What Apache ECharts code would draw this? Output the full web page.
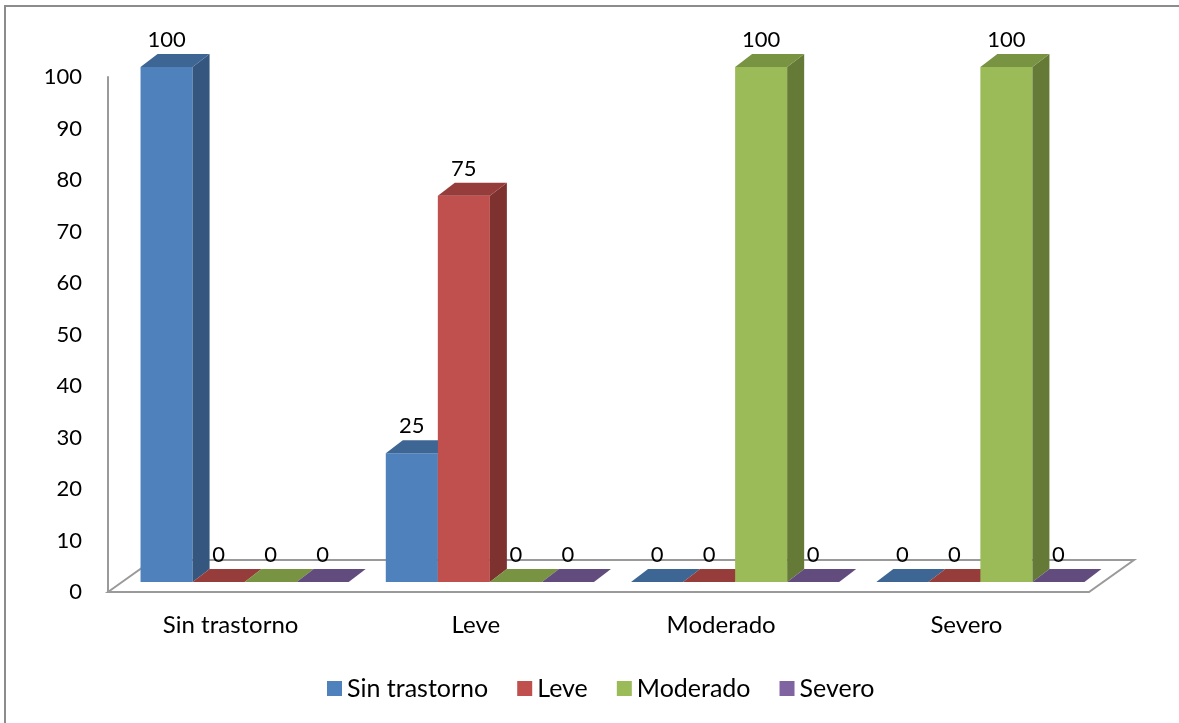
<!DOCTYPE html>
<html>
<head>
<meta charset="utf-8">
<script src="https://cdn.jsdelivr.net/npm/echarts@6/dist/echarts.min.js"></script>
<style>
html,body{margin:0;padding:0;background:#fff;}
#chart{width:1179px;height:723px;}
</style>
</head>
<body>
<div id="chart"></div>
<script>
// ---- data ----
var categories = ['Sin trastorno', 'Leve', 'Moderado', 'Severo'];
var seriesNames = ['Sin trastorno', 'Leve', 'Moderado', 'Severo'];
var sinTrastorno = [100, 25, 0, 0];
var leve = [0, 75, 0, 0];
var moderado = [0, 0, 100, 100];
var severo = [0, 0, 0, 0];
var yTicks = [0, 10, 20, 30, 40, 50, 60, 70, 80, 90, 100];

// ---- style ----
var FONT = 'Lato, "Open Sans", sans-serif';
var faces = [
  { front: '#4F81BD', top: '#3D6695', side: '#34567F' },
  { front: '#C0504D', top: '#963D3B', side: '#7E3230' },
  { front: '#9BBB59', top: '#789341', side: '#657A37' },
  { front: '#8064A2', top: '#624C7E', side: '#52406B' }
];
var SHIFT_X = 14, SHIFT_Y = -10;   // bar front plane offset from floor front edge
var DEPTH_X = 17, DEPTH_Y = -13;   // bar depth
var FLOOR_X = 45, FLOOR_Y = -32;   // floor depth

var allValues = [sinTrastorno, leve, moderado, severo];

function barRenderer(si) {
  return function (params, api) {
    var c = api.value(0), v = api.value(1);
    var top = api.coord([c, v]);
    var base = api.coord([c, 0]);
    var band = api.size([1, 0])[0];
    var bw = band * 0.2122;
    var x0 = top[0] - 2 * bw + si * bw + SHIFT_X;
    var x1 = x0 + bw;
    var yT = top[1] + SHIFT_Y;
    var yB = base[1] + SHIFT_Y;
    var f = faces[si];
    var children = [];
    if (yB - yT > 0.5) {
      children.push({ type: 'rect', shape: { x: x0, y: yT, width: bw, height: yB - yT }, style: { fill: f.front } });
      children.push({ type: 'polygon', shape: { points: [[x1, yT], [x1 + DEPTH_X, yT + DEPTH_Y], [x1 + DEPTH_X, yB + DEPTH_Y], [x1, yB]] }, style: { fill: f.side } });
    }
    children.push({ type: 'polygon', shape: { points: [[x0, yT], [x0 + DEPTH_X, yT + DEPTH_Y], [x1 + DEPTH_X, yT + DEPTH_Y], [x1, yT]] }, style: { fill: f.top } });
    children.push({ type: 'text', z2: 100, style: { text: String(v), x: x0 + bw / 2, y: yT + DEPTH_Y - 14, align: 'center', verticalAlign: 'middle', fill: '#000', font: '22px ' + FONT } });
    return { type: 'group', children: children };
  };
}

function floorRenderer(params, api) {
  var cs = params.coordSys;
  var l = cs.x, r = cs.x + cs.width, b = cs.y + cs.height;
  return {
    type: 'polygon',
    shape: { points: [[l, b], [l + FLOOR_X, b + FLOOR_Y], [r + FLOOR_X, b + FLOOR_Y], [r, b]] },
    style: { fill: '#fff', stroke: '#9a9a9a', lineWidth: 2 }
  };
}

var series = [{
  type: 'custom', name: '_floor', renderItem: floorRenderer, data: [[0, 0]], silent: true, z: 1
}];
allValues.forEach(function (arr, si) {
  series.push({
    type: 'custom',
    name: seriesNames[si],
    renderItem: barRenderer(si),
    itemStyle: { color: faces[si].front },
    data: arr.map(function (v, ci) { return [ci, v]; }),
    encode: { x: 0, y: 1 },
    z: 2
  });
});

var chart = echarts.init(document.getElementById('chart'), null, { renderer: 'canvas' });
chart.setOption({
  animation: false,
  backgroundColor: '#fff',
  grid: { left: 108, right: 90, top: 77, bottom: 131 },
  xAxis: {
    type: 'category',
    data: categories,
    axisLine: { show: false },
    axisTick: { show: false },
    splitLine: { show: false },
    axisLabel: { color: '#000', fontSize: 24, fontFamily: FONT, margin: 21 }
  },
  yAxis: {
    type: 'value',
    min: yTicks[0], max: yTicks[yTicks.length - 1], interval: yTicks[1] - yTicks[0],
    axisLine: { show: true, lineStyle: { color: '#9a9a9a', width: 2 } },
    axisTick: { show: false },
    splitLine: { show: false },
    axisLabel: { color: '#000', fontSize: 22, fontFamily: FONT, margin: 26 }
  },
  legend: {
    data: seriesNames,
    top: 671,
    left: 322,
    icon: 'rect',
    itemWidth: 15,
    itemHeight: 15,
    itemGap: 29,
    textStyle: { color: '#000', fontSize: 25, fontFamily: FONT }
  },
  graphic: [
    { type: 'polyline', shape: { points: [[5, 723], [5, 6], [1179, 6]] }, style: { stroke: '#8c8c8c', lineWidth: 2, fill: null }, silent: true }
  ],
  series: series
});
</script>
</body>
</html>
